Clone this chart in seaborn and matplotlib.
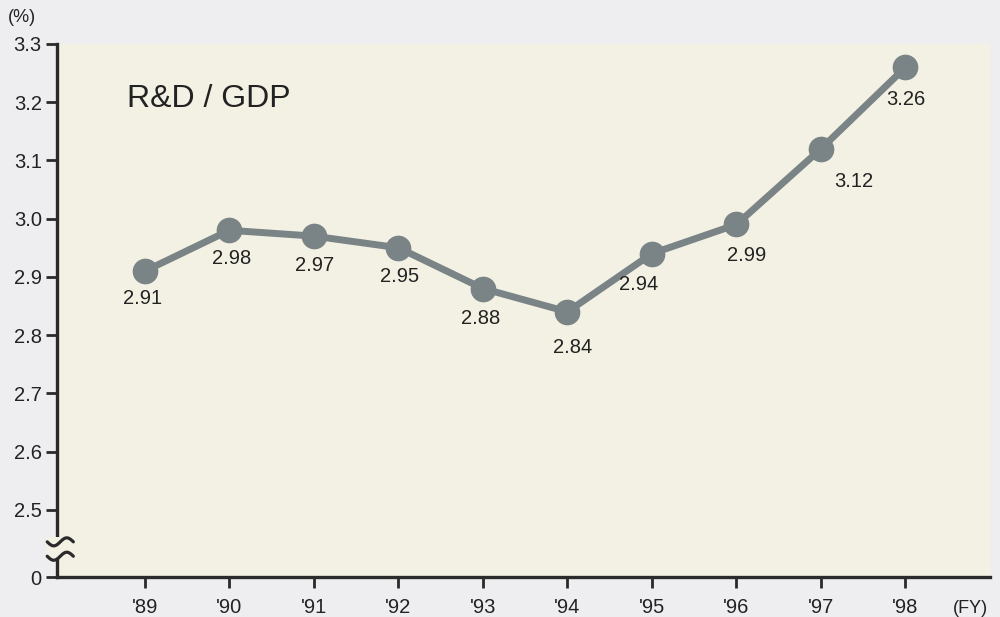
import matplotlib
matplotlib.use("Agg")
import matplotlib.pyplot as plt
import matplotlib.patches as mpatches
import seaborn as sns
import pandas as pd
import numpy as np

years = ["'89", "'90", "'91", "'92", "'93", "'94", "'95", "'96", "'97", "'98"]
ratio = [2.91, 2.98, 2.97, 2.95, 2.88, 2.84, 2.94, 2.99, 3.12, 3.26]
label_offsets = [(-2, -27), (2, -28), (1, -29), (1, -29), (-2, -30), (5, -36),
                 (-13, -31), (10, -31), (33, -33), (0, -32)]
y_ticks = [2.5, 2.6, 2.7, 2.8, 2.9, 3.0, 3.1, 3.2, 3.3]
y_bottom = 2.3845  # position of the broken-axis "0"

sns.set_theme(style="white")
plt.rcParams["font.family"] = ["Liberation Sans", "DejaVu Sans"]

df = pd.DataFrame({"x": range(len(years)), "ratio": ratio})

fig_bg = "#eeedf0"
ax_bg = "#f3f1e3"
fig = plt.figure(figsize=(10, 6.17), dpi=100, facecolor=fig_bg)
ax = fig.add_axes([0.057, 0.0648, 0.933, 0.8639])
ax.set_facecolor(ax_bg)

line_color = "#7a8486"
sns.lineplot(data=df, x="x", y="ratio", ax=ax, color=line_color, linewidth=5,
             marker="o", markersize=18.5, markeredgewidth=0, zorder=3)

for i, (v, off) in enumerate(zip(ratio, label_offsets)):
    ax.annotate(f"{v:.2f}", (i, v), xytext=off, textcoords="offset pixels",
                ha="center", va="center", fontsize=14.5, color="#222222")

ax.set_xlim(-1.04, 10.0)
ax.set_ylim(y_bottom, 3.3)
ax.set_xticks(range(len(years)))
ax.set_xticklabels(years)
ax.set_yticks([y_bottom] + y_ticks)
ax.set_yticklabels(["0"] + [f"{t:.1f}" for t in y_ticks])
ax.set_xlabel("")
ax.set_ylabel("")

for s in ["top", "right"]:
    ax.spines[s].set_visible(False)
for s in ["left", "bottom"]:
    ax.spines[s].set_color("#2a2a2a")
    ax.spines[s].set_linewidth(2.4)

ax.tick_params(axis="both", which="both", direction="out", length=8, width=2,
               color="#2a2a2a", labelsize=14.5, labelcolor="#222222", pad=3,
               bottom=True, left=True)
ax.tick_params(axis="x", pad=7)

# axis break mark: gap in the spine and two wavy strokes
gap = mpatches.Rectangle((-0.012, 0.033), 0.026, 0.043, transform=ax.transAxes,
                         facecolor=ax_bg, edgecolor="none", clip_on=False, zorder=5)
ax.add_patch(gap)
t = np.linspace(0, 1, 60)
wx = -0.0105 + 0.028 * t
for yc in (0.066, 0.039):
    wy = yc - 0.0075 * np.sin(2 * np.pi * t)
    ax.plot(wx, wy, transform=ax.transAxes, color="#2a2a2a", lw=2.3,
            clip_on=False, zorder=6, solid_capstyle="round")

ax.text(0.075, 0.925, "R&D / GDP", transform=ax.transAxes, ha="left", va="top",
        fontsize=23, color="#222222")

fig.text(0.008, 0.972, "(%)", ha="left", va="center", fontsize=13, color="#222222")
fig.text(0.988, 0.014, "(FY)", ha="right", va="center", fontsize=13, color="#222222")

fig.savefig("out.png", dpi=100, facecolor=fig.get_facecolor())
